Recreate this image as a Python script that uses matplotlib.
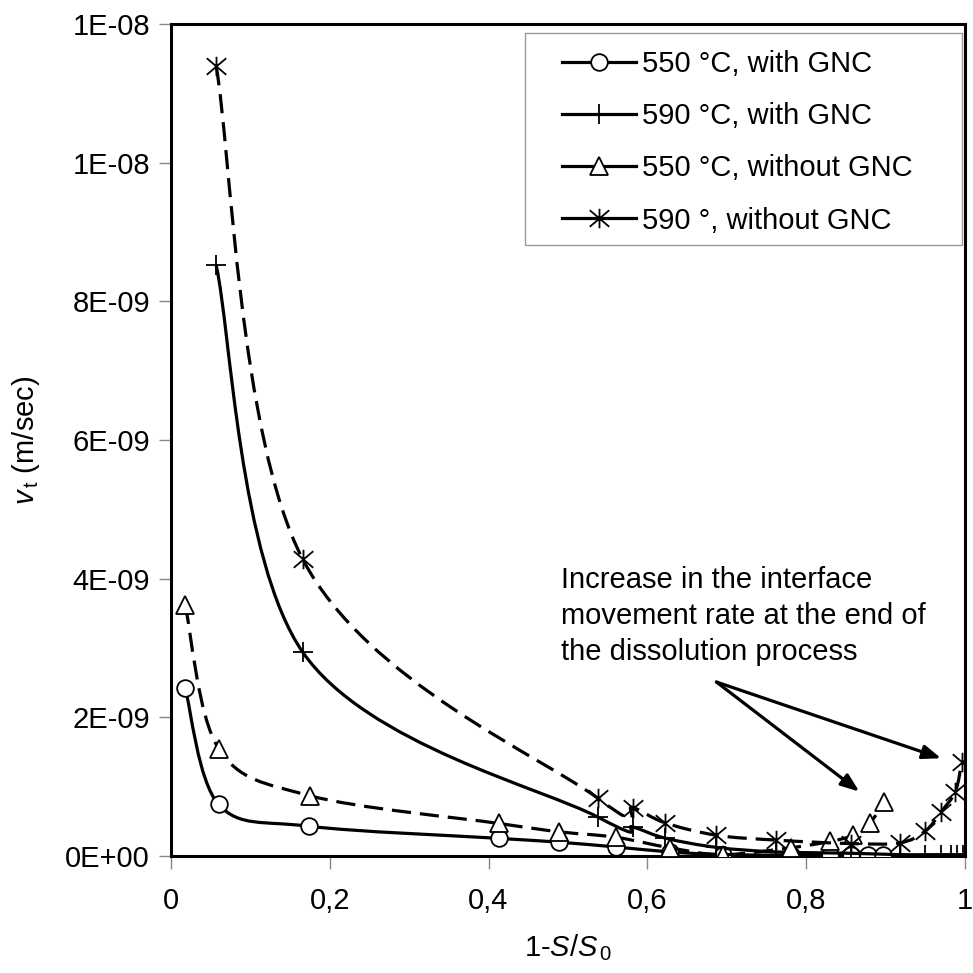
import numpy as np
import matplotlib
matplotlib.use("Agg")
import matplotlib.pyplot as plt
from matplotlib.path import Path
from matplotlib.patches import PathPatch, Rectangle
from matplotlib.lines import Line2D
from matplotlib.ticker import FuncFormatter, MultipleLocator

plt.rcParams['font.family'] = ['Liberation Sans', 'DejaVu Sans']
plt.rcParams['mathtext.fontset'] = 'custom'
plt.rcParams['mathtext.rm'] = 'Liberation Sans'
plt.rcParams['mathtext.it'] = 'Liberation Sans:italic'

# data (y in m/sec)
x_550_gnc = [0.018, 0.060, 0.174, 0.413, 0.489, 0.561, 0.628, 0.695, 0.781, 0.830, 0.857, 0.878, 0.897]
v_550_gnc = np.array([2.42, 0.745, 0.43, 0.255, 0.20, 0.13, 0.06, 0.02, 0.015, 0.015, 0.01, 0.01, 0.01]) * 1e-9

x_590_gnc = [0.057, 0.166, 0.538, 0.582, 0.622, 0.687, 0.762, 0.856, 0.918, 0.950, 0.970, 0.982, 0.990, 0.997]
v_590_gnc = np.array([8.52, 2.94, 0.56, 0.42, 0.26, 0.125, 0.06, 0.04, 0.02, 0.02, 0.02, 0.02, 0.02, 0.02]) * 1e-9

x_550_no = [0.018, 0.060, 0.175, 0.413, 0.489, 0.561, 0.628, 0.695, 0.781, 0.830, 0.859, 0.880, 0.898]
v_550_no = np.array([3.62, 1.55, 0.87, 0.47, 0.35, 0.27, 0.12, 0.02, 0.12, 0.21, 0.30, 0.47, 0.78]) * 1e-9

x_590_no = [0.057, 0.166, 0.538, 0.582, 0.622, 0.687, 0.762, 0.856, 0.918, 0.950, 0.970, 0.988, 0.996]
v_590_no = np.array([11.39, 4.28, 0.83, 0.70, 0.48, 0.30, 0.23, 0.18, 0.19, 0.36, 0.64, 0.93, 1.36]) * 1e-9

labels = ['550 °C, with GNC', '590 °C, with GNC', '550 °C, without GNC', '590 °, without GNC']

FS = 21

# asterisk-like marker: vertical bar plus an X
star = Path([(0, -1), (0, 1), (-1, -0.85), (1, 0.85), (-1, 0.85), (1, -0.85)],
            [Path.MOVETO, Path.LINETO] * 3)


def smooth_path(x, y):
    # excel style smoothed line: catmull-rom turned into cubic bezier pieces
    p = np.column_stack([x, y])
    n = len(p)
    verts = [p[0]]
    codes = [Path.MOVETO]
    for i in range(n - 1):
        p0 = p[i - 1] if i > 0 else p[i]
        p3 = p[i + 2] if i + 2 < n else p[i + 1]
        verts += [p[i] + (p[i + 1] - p0) / 6, p[i + 1] - (p3 - p[i]) / 6, p[i + 1]]
        codes += [Path.CURVE4] * 3
    return Path(np.array(verts), codes)


fig = plt.figure(figsize=(9.73, 9.73), dpi=100)
ax = fig.add_axes([0.1757, 0.1202, 0.8160, 0.8551])

dash = (0, (6, 2.8))
series = [
    (x_550_gnc, v_550_gnc, '-', 'o', 12, 'white'),
    (x_590_gnc, v_590_gnc, '-', '+', 15, 'black'),
    (x_550_no, v_550_no, dash, '^', 13, 'white'),
    (x_590_no, v_590_no, dash, star, 14, 'black'),
]

handles = []
for k, (xs, ys, ls, mk, ms, fc) in enumerate(series):
    ax.add_patch(PathPatch(smooth_path(xs, ys), fill=False, edgecolor='black',
                           lw=2.3, linestyle=ls, capstyle='butt', zorder=2 + 2 * k))
    ax.plot(xs, ys, linestyle='none', marker=mk, markersize=ms, markerfacecolor=fc,
            markeredgecolor='black', markeredgewidth=1.3, zorder=3 + 2 * k)
    handles.append(Line2D([], [], color='black', lw=2.3, marker=mk, markersize=ms,
                          markerfacecolor=fc, markeredgecolor='black', markeredgewidth=1.3))

ax.set_xlim(0, 1)
ax.set_ylim(0, 1.2e-8)
ax.xaxis.set_major_locator(MultipleLocator(0.2))
ax.yaxis.set_major_locator(MultipleLocator(2e-9))
ax.xaxis.set_major_formatter(FuncFormatter(lambda v, p: f"{v:g}".replace('.', ',')))
ax.yaxis.set_major_formatter(FuncFormatter(lambda v, p: f"{v:.0E}"))
ax.tick_params(direction='out', length=9, width=1, color='#888888', labelsize=FS)
ax.tick_params(axis='x', pad=13)
ax.tick_params(axis='y', pad=6)
for s in ax.spines.values():
    s.set_linewidth(2.2)
    s.set_color('black')

ax.set_ylabel(r'$\mathit{v}_{\,\mathrm{t}}$ (m/sec)', fontsize=FS)
ax.yaxis.set_label_coords(-0.162, 0.5)
ax.set_xlabel(r'1-$\mathit{S}$/$\mathit{S}_{\,\mathrm{0}}$', fontsize=FS)
ax.xaxis.set_label_coords(0.5, -0.092)

# legend frame drawn separately so the side padding can be wider than the top one
ax.add_patch(Rectangle((0.4465, 0.7344), 0.5495, 0.2548, transform=ax.transAxes,
                       facecolor='white', edgecolor='#999999', lw=1, zorder=19))
leg = ax.legend(handles, labels, loc='upper left', bbox_to_anchor=(0.4919, 0.9687),
                fontsize=FS, handlelength=2.55, handletextpad=0.2, labelspacing=0.83,
                borderpad=0, borderaxespad=0, frameon=False)
leg.set_zorder(20)

ax.text(0.4915, 4.19e-9, 'Increase in the interface\nmovement rate at the end of\nthe dissolution process',
        fontsize=FS, va='top', ha='left', linespacing=1.37)
for end in [(0.867, 0.93e-9), (0.970, 1.41e-9)]:
    ax.annotate('', xy=end, xytext=(0.687, 2.51e-9),
                arrowprops=dict(arrowstyle='-|>,head_length=1.1,head_width=0.42',
                                color='black', lw=2.3, shrinkA=0, shrinkB=0))

fig.savefig('out.png', dpi=100, facecolor='white')
